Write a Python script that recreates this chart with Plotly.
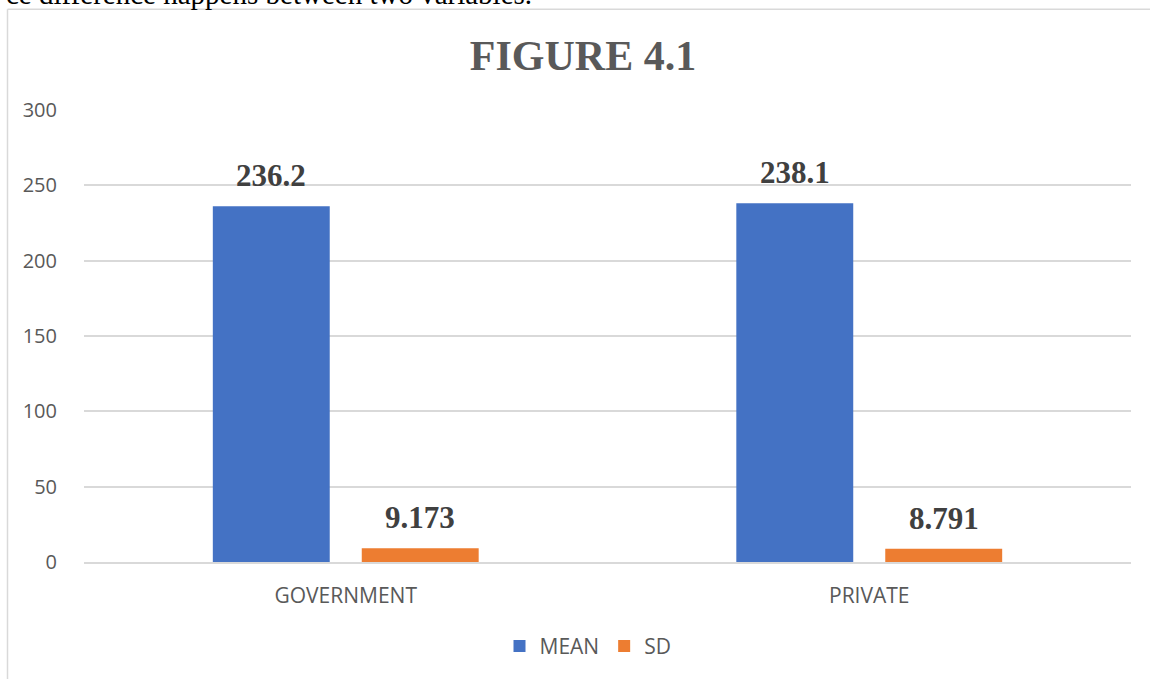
import plotly.graph_objects as go

categories = ["GOVERNMENT", "PRIVATE"]
mean_values = [236.2, 238.1]
sd_values = [9.173, 8.791]
mean_labels = ["236.2", "238.1"]
sd_labels = ["9.173", "8.791"]
y_ticks = [0, 50, 100, 150, 200, 250, 300]

BLUE = "#4472C4"
ORANGE = "#ED7D31"
GRID = "#D9D9D9"

fig = go.Figure()
fig.add_trace(go.Bar(name="MEAN", x=categories, y=mean_values, marker_color=BLUE,
                     marker_line_width=0))
fig.add_trace(go.Bar(name="SD", x=categories, y=sd_values, marker_color=ORANGE,
                     marker_line_width=0))

# data labels (bold serif) above each bar
slot = (1 - 0.431) / 2
annotations = []
for i, cat in enumerate(categories):
    for j, (vals, labs) in enumerate([(mean_values, mean_labels), (sd_values, sd_labels)]):
        offset = (-0.5 + j) * slot
        annotations.append(dict(
            x=i + offset, y=vals[i], xref="x", yref="y", text=labs[i],
            showarrow=False, yanchor="bottom", yshift=11,
            font=dict(family="Liberation Serif", size=31, color="#404040", weight="bold")))

# cut-off document text at the very top
annotations.append(dict(
    x=(4 - 84) / 1047, y=1 + (110 - 11) / 455, xref="paper", yref="paper",
    xanchor="left", yanchor="bottom", showarrow=False,
    text="ce difference happens between two variables.",
    font=dict(family="Liberation Serif", size=29, color="#000000")))

fig.update_layout(
    width=1150, height=679,
    margin=dict(l=84, r=19, t=110, b=114),
    paper_bgcolor="white", plot_bgcolor="white",
    barmode="group", bargap=0.431, bargroupgap=0.215,
    title=dict(text="<b>FIGURE 4.1</b>", x=(583 - 84) / 1047, xref="paper", xanchor="center",
               y=1 - 55 / 679, yanchor="middle",
               font=dict(family="Liberation Serif", size=42, color="#595959")),
    showlegend=True,
    legend=dict(orientation="h", x=(588 - 84) / 1047, xanchor="center",
                y=(565 - 650) / 455, yanchor="middle",
                font=dict(family="Open Sans", size=21, color="#595959"),
                traceorder="normal", itemwidth=30),
    annotations=annotations,
    shapes=[
        dict(type="line", xref="paper", yref="paper",
             x0=(7.5 - 84) / 1047, x1=(1150 - 84) / 1047,
             y0=1 + (110 - 8.5) / 455, y1=1 + (110 - 8.5) / 455,
             line=dict(color="#D9D9D9", width=1.5)),
        dict(type="line", xref="paper", yref="paper",
             x0=(7.5 - 84) / 1047, x1=(7.5 - 84) / 1047,
             y0=1 + (110 - 8.5) / 455, y1=-(679 - 565) / 455 - 0.01,
             line=dict(color="#D9D9D9", width=1.5)),
    ],
)

fig.update_yaxes(range=[0, 300], tickvals=y_ticks, showgrid=True, gridcolor=GRID,
                 gridwidth=1.5, zeroline=False, showline=False,
                 ticks="outside", ticklen=22, tickcolor="rgba(0,0,0,0)",
                 tickfont=dict(family="Open Sans", size=20, color="#595959"))
fig.update_xaxes(showline=True, linecolor=GRID, linewidth=1.5, showgrid=False,
                 ticks="outside", ticklen=14, tickcolor="rgba(0,0,0,0)",
                 tickfont=dict(family="Open Sans", size=21, color="#595959"))

fig.write_html("out.html", config={"displayModeBar": False},
               post_script="document.body.style.margin='0px';")
